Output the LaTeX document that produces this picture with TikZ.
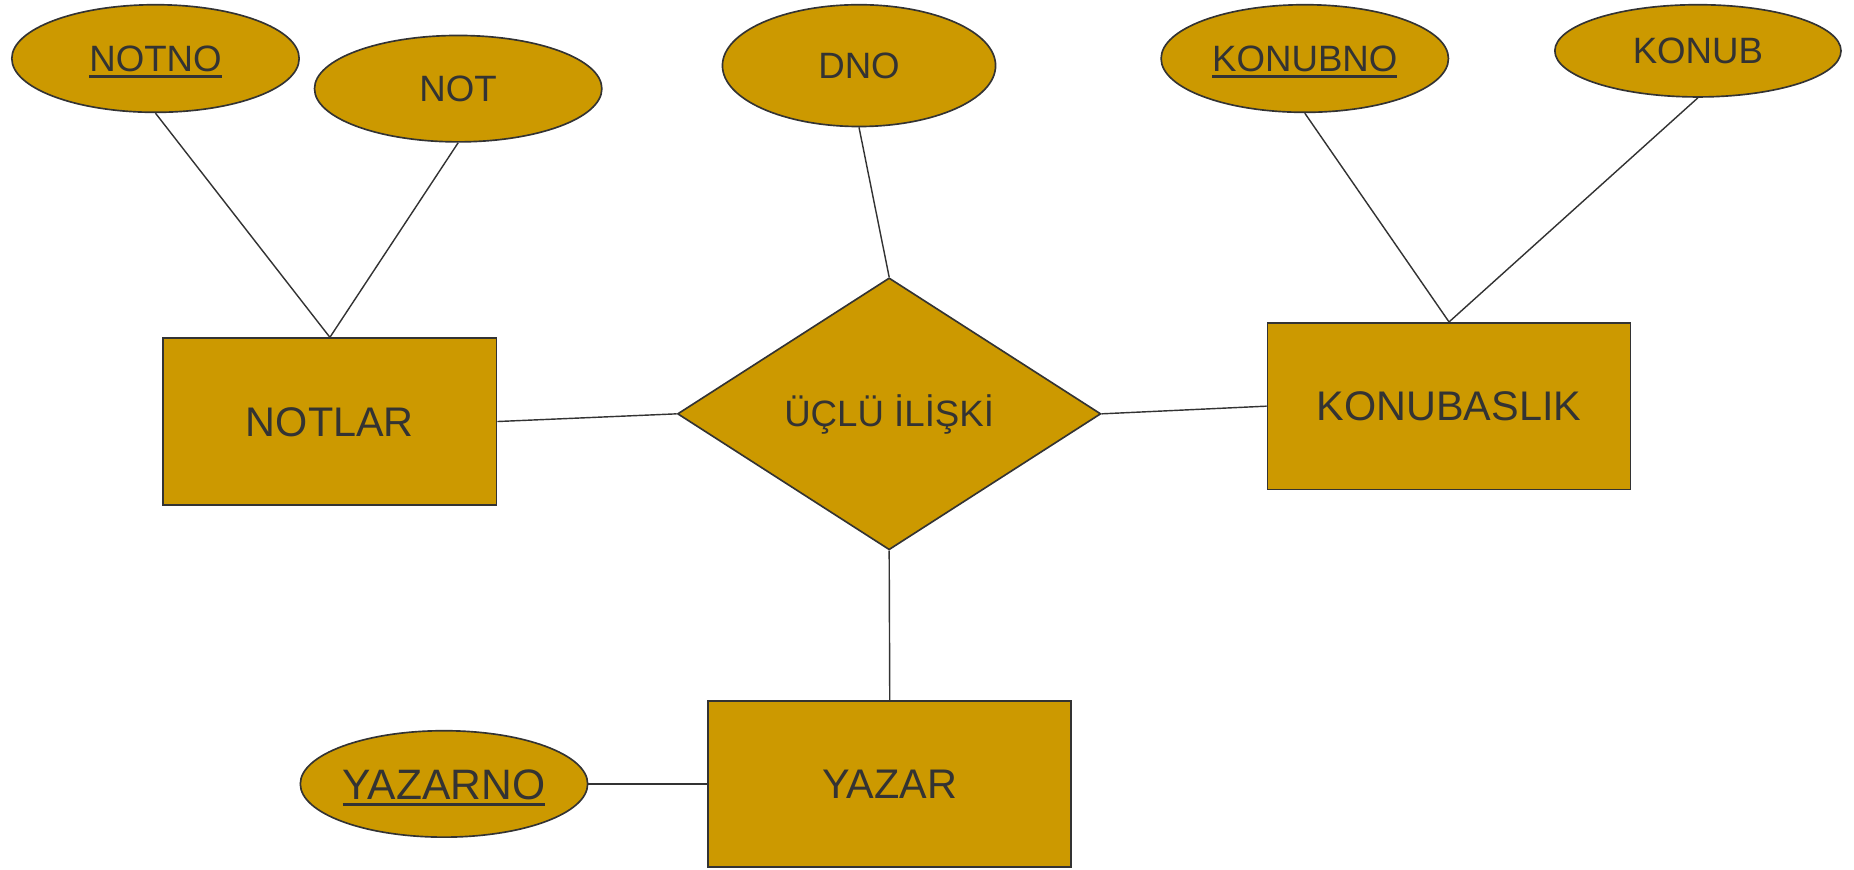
\documentclass[tikz,border=0pt]{standalone}
\usepackage{fontspec}
\setmainfont{Liberation Sans}
\usetikzlibrary{shapes.geometric}
\definecolor{gold}{HTML}{CC9900}
\definecolor{ink}{HTML}{333333}
\newcommand\keyul[1]{\setbox0\hbox{#1}\rlap{\rule[-5.5pt]{\wd0}{2.5pt}}\box0}
\tikzset{
  base/.style={fill=gold, draw=ink, line width=1.4pt, text=ink, inner sep=0pt,
               text depth=0pt},
  attr/.style={base, ellipse, font=\fontsize{31}{36}\selectfont, text height=22.2pt},
  bigattr/.style={base, ellipse, font=\fontsize{36}{42}\selectfont, text height=25.8pt},
  entity/.style={base, rectangle, font=\fontsize{35}{40}\selectfont, text height=25pt},
  rel/.style={base, diamond, font=\fontsize{31}{36}\selectfont, text height=22.2pt},
  link/.style={draw=ink, line width=1.2pt}
}
\begin{document}
\begin{tikzpicture}[x=1pt,y=-1pt]
\useasboundingbox (0,0) rectangle (1568,735);
% attributes
\node[attr, minimum width=243, minimum height=91] (notno) at (131.5,49.5) {\keyul{NOTNO}};
\node[attr, minimum width=243, minimum height=90] (not) at (387.5,75) {NOT};
\node[attr, minimum width=231, minimum height=103] (dno) at (726.5,55.5) {DNO};
\node[attr, minimum width=243, minimum height=91] (konubno) at (1103.5,49.5) {\keyul{KONUBNO}};
\node[attr, minimum width=242, minimum height=78] (konub) at (1436,43) {KONUB};
\node[bigattr, minimum width=243, minimum height=90] (yazarno) at (375.5,663) {\keyul{YAZARNO}};
% entities
\node[entity, minimum width=282, minimum height=141] (notlar) at (279,356.5) {NOTLAR};
\node[entity, minimum width=307, minimum height=141] (konubaslik) at (1225.5,343.5) {KONUBASLIK};
\node[entity, minimum width=307, minimum height=140] (yazar) at (752.5,663) {YAZAR};
% relationship
\node[rel, minimum width=358, minimum height=230] (rel) at (752,350) {ÜÇLÜ İLİŞKİ};
% connectors
\draw[link] (notno.south) -- (notlar.north);
\draw[link] (not.south) -- (notlar.north);
\draw[link] (dno.south) -- (rel.north);
\draw[link] (konubno.south) -- (konubaslik.north);
\draw[link] (konub.south) -- (konubaslik.north);
\draw[link] (notlar.east) -- (rel.west);
\draw[link] (rel.east) -- (konubaslik.west);
\draw[link] (rel.south) -- (yazar.north);
\draw[link] (yazarno.east) -- (yazar.west);
\end{tikzpicture}
\end{document}
